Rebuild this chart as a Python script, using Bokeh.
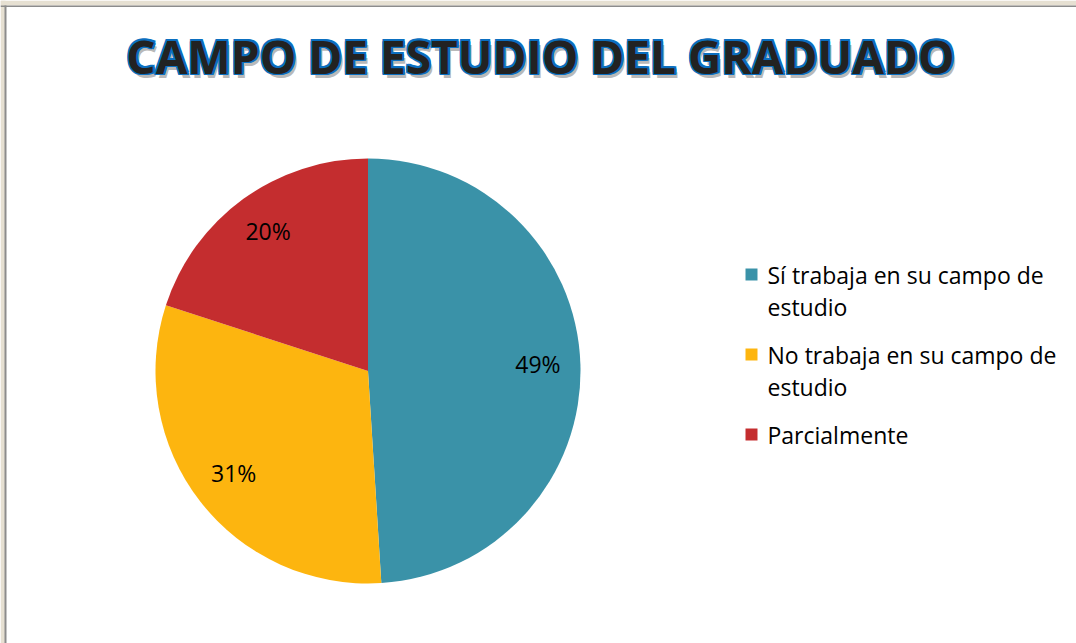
import math
from bokeh.plotting import figure
from bokeh.models import Range1d, ColumnDataSource
from bokeh.core.properties import value
from bokeh.embed import file_html
from bokeh.resources import INLINE

# ---- data ----
title_text = "CAMPO DE ESTUDIO DEL GRADUADO"
categories = ["Sí trabaja en su campo de\nestudio",
              "No trabaja en su campo de\nestudio",
              "Parcialmente"]
percent_values = [49, 31, 20]
colors = ["#3A92A8", "#FDB50F", "#C42D2F"]

W, H = 1076, 643
FONT = "Open Sans"

p = figure(width=W, height=H, output_backend="svg", toolbar_location=None,
           x_range=Range1d(0, W), y_range=Range1d(0, H), min_border=0,
           background_fill_color="white", border_fill_color="white")
p.axis.visible = False
p.grid.visible = False
p.outline_line_color = None

def fy(y_ref):
    # convert reference screen y (top-down) to data y (bottom-up)
    return H - y_ref

def fx(x_ref):
    return x_ref

# ---- frame decoration (window border at top/left) ----
p.quad(left=[0, 0], right=[W, 5], bottom=[fy(5), 0], top=[H, H],
       fill_color="#E6E0D2", line_color=None)
p.quad(left=[0, 4], right=[W, 6], bottom=[fy(6.5), 0], top=[fy(5), fy(5)],
       fill_color="#8C8C8C", line_color=None)

# ---- pie ----
cx, cy, r = fx(367.5), fy(370.5), 212.5
total = float(sum(percent_values))
starts, ends, mids = [], [], []
acc = 0.0
for v in percent_values:
    a0 = math.pi / 2 - 2 * math.pi * acc / total
    acc += v
    a1 = math.pi / 2 - 2 * math.pi * acc / total
    starts.append(a0)
    ends.append(a1)
    mids.append((a0 + a1) / 2)

src = ColumnDataSource(dict(start=starts, end=ends, color=colors))
p.wedge(x=cx, y=cy, radius=r, radius_units="screen", start_angle="start",
        end_angle="end", direction="clock", fill_color="color",
        line_color=None, source=src)

lbl_r = 0.8 * r
p.text(x=[cx + lbl_r * math.cos(m) for m in mids],
       y=[cy + lbl_r * math.sin(m) + 2 for m in mids],
       text=[f"{v}%" for v in percent_values],
       text_font=value(FONT), text_font_size="23px", text_color="#000000",
       text_align="center", text_baseline="middle")

# ---- title (shadow + blue outline + dark fill) ----
tx, ty = fx(540), fy(55)
TFS = "46px"
p.text(x=[tx + 3], y=[ty - 4], text=[title_text], text_font=value(FONT),
       text_font_style="bold", text_font_size=TFS, text_color="#8a8a8a",
       text_alpha=0.6, text_align="center", text_baseline="alphabetic")
d = 1.6
offs = [(d, 0), (-d, 0), (0, d), (0, -d), (d, d), (-d, d), (d, -d), (-d, -d)]
p.text(x=[tx + o[0] for o in offs], y=[ty + o[1] for o in offs],
       text=[title_text] * len(offs), text_font=value(FONT),
       text_font_style="bold", text_font_size=TFS, text_color="#0B6FC0",
       text_align="center", text_baseline="alphabetic")
p.text(x=[tx], y=[ty], text=[title_text], text_font=value(FONT),
       text_font_style="bold", text_font_size=TFS, text_color="#222222",
       text_align="center", text_baseline="alphabetic")

# ---- legend ----
sq_x = fx(751)
txt_x = fx(767)
line_step = 32
entry_gap = 16
y_cursor = 274
sq_x_list, sq_y_list = [], []
lx, ly, lt = [], [], []
for lab in categories:
    lines = lab.split("\n")
    sq_x_list.append(sq_x)
    sq_y_list.append(fy(y_cursor))
    for ln in lines:
        lx.append(txt_x)
        ly.append(fy(y_cursor))
        lt.append(ln)
        y_cursor += line_step
    y_cursor += entry_gap

p.rect(x=sq_x_list, y=sq_y_list, width=12, height=12, width_units="screen",
       height_units="screen", fill_color=colors, line_color=None)
p.text(x=lx, y=ly, text=lt, text_font=value(FONT), text_font_size="23px",
       text_color="#000000", text_align="left", text_baseline="middle")

open("out.html", "w").write(file_html(p, INLINE))
